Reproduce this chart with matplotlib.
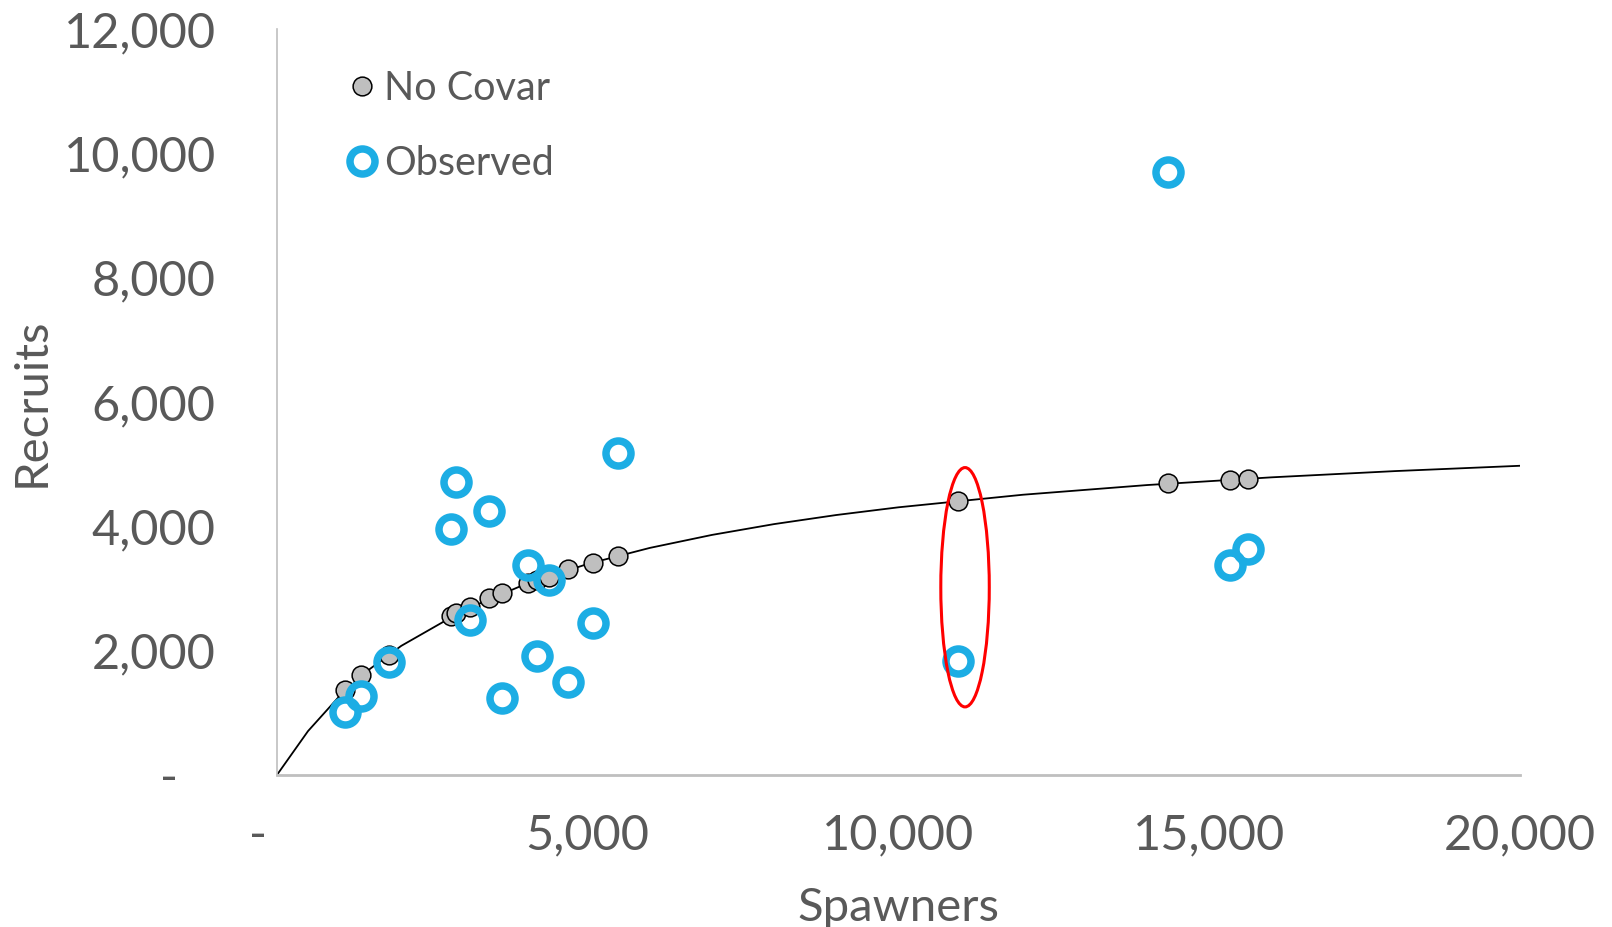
import matplotlib.pyplot as plt
from matplotlib.patches import Ellipse
from matplotlib.ticker import FuncFormatter

plt.rcParams['font.family'] = ['Lato', 'DejaVu Sans']

# spawners and recruits per brood year
spawners = [1094, 1360, 1810, 2800, 2875, 3105, 3410, 3615, 4040, 4190,
            4370, 4690, 5080, 5490, 10960, 14330, 15340, 15630]
observed = [1010, 1270, 1820, 3960, 4720, 2490, 4250, 1240, 3370, 1910,
            3130, 1500, 2450, 5180, 1830, 9700, 3380, 3630]
no_covar = [1370, 1610, 1930, 2550, 2600, 2710, 2840, 2930, 3090, 3140,
            3190, 3310, 3415, 3530, 4410, 4690, 4740, 4760]

# fitted stock-recruit curve
curve_s = [0, 500, 1000, 1500, 2000, 3000, 4000, 5000, 6000, 7000, 8000,
           9000, 10000, 12000, 14000, 16000, 18000, 20000]
curve_r = [0, 706, 1261, 1709, 2077, 2648, 3071, 3395, 3653, 3862, 4036,
           4182, 4306, 4508, 4664, 4788, 4889, 4974]

# highlighted year
hl_s, hl_r = 11070, 3020
hl_w, hl_h = 780, 3850

grey_txt = '#595959'
blue = '#1CADE4'

fig = plt.figure(figsize=(16.12, 9.27), dpi=100)
ax = fig.add_axes([0.1718, 0.164, 0.943 - 0.1718, 0.9687 - 0.164])

ax.plot(curve_s, curve_r, color='black', lw=1.3, zorder=2)
ax.plot(spawners, no_covar, ls='none', marker='o', ms=13.5,
        mfc='#BFBFBF', mec='black', mew=1.1, label='No Covar', zorder=3)
ax.plot(spawners, observed, ls='none', marker='o', ms=18,
        mfc='none', mec=blue, mew=5.4, label='Observed', zorder=4)

ax.add_patch(Ellipse((hl_s, hl_r), hl_w, hl_h, fill=False,
                     edgecolor='red', lw=2.2, zorder=5))

ax.set_xlim(0, 20000)
ax.set_ylim(0, 12000)
ax.set_xticks([0, 5000, 10000, 15000, 20000])
ax.set_yticks(range(0, 12001, 2000))


def fmt(v, pos):
    if v == 0:
        return '-   '
    return '{:,.0f}'.format(v)


ax.xaxis.set_major_formatter(FuncFormatter(fmt))
ax.yaxis.set_major_formatter(FuncFormatter(fmt))
ax.tick_params(length=0, labelsize=35, colors=grey_txt)
ax.tick_params(axis='x', pad=28)
ax.tick_params(axis='y', pad=44)

for s in ['top', 'right']:
    ax.spines[s].set_visible(False)
ax.spines['left'].set_color('#BFBFBF')
ax.spines['left'].set_linewidth(1.2)
ax.spines['bottom'].set_color('#BFBFBF')
ax.spines['bottom'].set_linewidth(2.0)

ax.set_xlabel('Spawners', fontsize=34, color=grey_txt, labelpad=21)
ax.set_ylabel('Recruits', fontsize=34, color=grey_txt, labelpad=8)

ax.legend(loc='upper left', bbox_to_anchor=(352 / 1612, 1 - 70 / 927),
          bbox_transform=fig.transFigure, frameon=False, fontsize=28.5,
          labelcolor=grey_txt, handlelength=0.5, handletextpad=0.3,
          borderpad=0, borderaxespad=0, labelspacing=0.95, numpoints=1)

fig.savefig('out.png', dpi=100)
